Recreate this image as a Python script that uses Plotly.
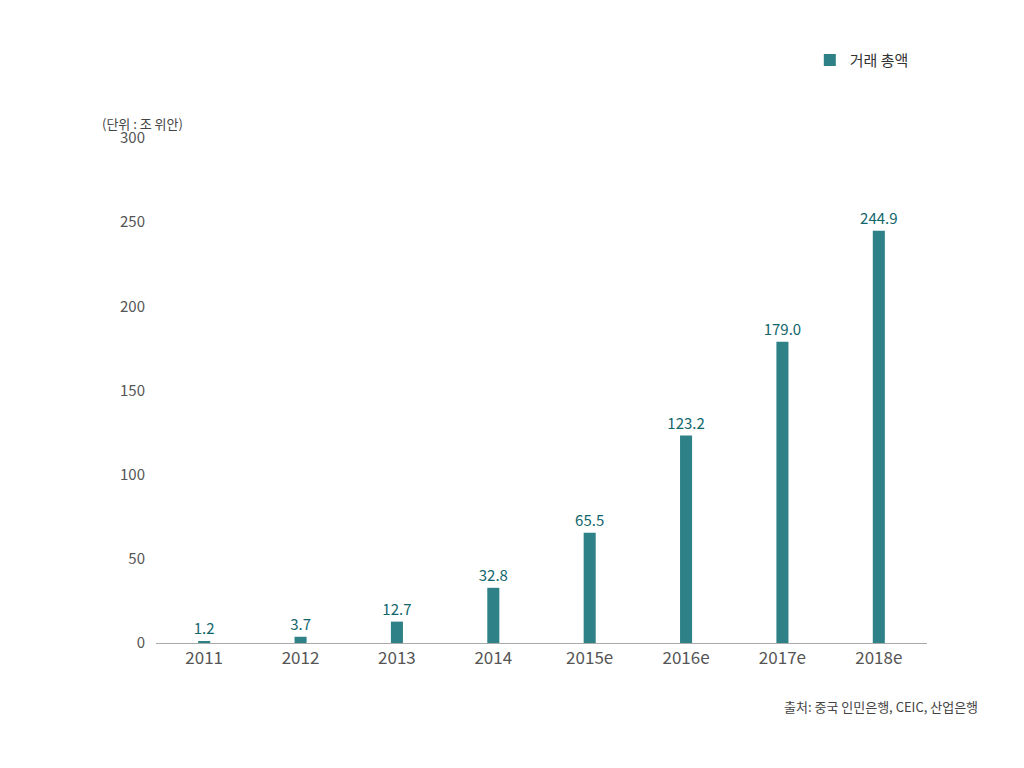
import plotly.graph_objects as go

years = ["2011", "2012", "2013", "2014", "2015e", "2016e", "2017e", "2018e"]
values = [1.2, 3.7, 12.7, 32.8, 65.5, 123.2, 179.0, 244.9]
labels = ["1.2", "3.7", "12.7", "32.8", "65.5", "123.2", "179.0", "244.9"]

FONT = "Noto Sans CJK KR"

fig = go.Figure()
fig.add_trace(go.Bar(
    x=years, y=values, name="거래 총액",
    width=0.125,
    marker=dict(color="#2e8186", line=dict(width=0)),
    text=labels, textposition="outside", cliponaxis=False,
    constraintext="none",
    textfont=dict(color="#11666c", size=15, family=FONT),
))

fig.update_layout(
    width=1024, height=768,
    paper_bgcolor="white", plot_bgcolor="white",
    margin=dict(l=148, r=105, t=130, b=133, autoexpand=False),
    font=dict(family=FONT, color="#555"),
    showlegend=True,
    legend=dict(x=0.848, y=1.154, xanchor="left", yanchor="middle",
                font=dict(size=15, color="#333")),
    xaxis=dict(showline=True, linecolor="#aaa", linewidth=1, ticks="",
               tickfont=dict(size=17, color="#555")),
    yaxis=dict(range=[0, 300], dtick=50, showgrid=False, zeroline=False,
               ticks="", tickfont=dict(size=15, color="#555"), ticklabelstandoff=10),
    annotations=[
        dict(text="(단위 : 조 위안)", x=-0.073, y=1.051, xanchor="left",
             xref="paper", yref="paper", showarrow=False,
             font=dict(size=13, color="#444")),
        dict(text="출처: 중국 인민은행, CEIC, 산업은행", xref="paper", yref="paper",
             x=1.069, y=-0.149, xanchor="right", showarrow=False,
             font=dict(size=13, color="#444")),
    ],
)

fig.write_html("out.html")
